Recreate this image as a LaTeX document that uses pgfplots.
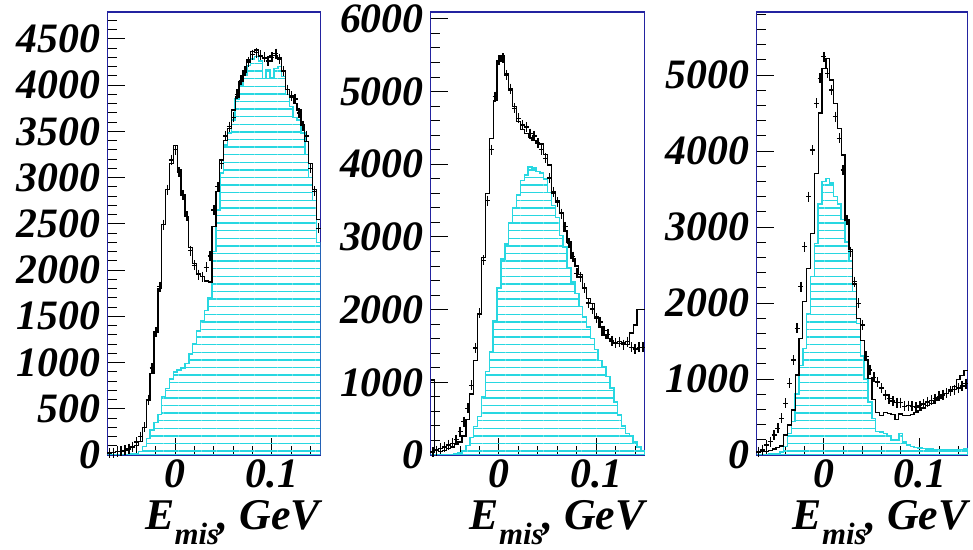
\documentclass[border=0pt]{standalone}
\usepackage{fontspec}
\setmainfont{Liberation Serif}
\usepackage{pgfplots}
\pgfplotsset{compat=1.18}
\usepackage{pgfplotstable}
\usetikzlibrary{patterns.meta}
\definecolor{frameblue}{RGB}{35,35,160}
\definecolor{mccyan}{RGB}{40,215,225}

\newcommand\tlab{\fontsize{42}{42}\selectfont\bfseries\itshape}
\newcommand\emis{{\fontsize{44}{44}\selectfont\bfseries\itshape E\raisebox{-0.36em}{\fontsize{31}{31}\selectfont mis}\kern-0.03em, GeV}}

% bin left edge, total MC, signal MC, data
\pgfplotstableread{
x mc sig dat
-0.070 30 0 20
-0.066 30 0 25
-0.062 35 0 36
-0.058 40 0 40
-0.054 50 5 50
-0.050 60 8 70
-0.046 80 10 90
-0.042 100 18 140
-0.038 145 36 200
-0.034 300 90 300
-0.030 590 180 600
-0.026 880 270 940
-0.022 1330 350 1330
-0.018 1800 440 1820
-0.014 2490 630 2490
-0.010 2870 720 2870
-0.006 3150 820 3190
-0.002 3350 900 3300
0.002 3080 920 3060
0.006 2810 940 2810
0.010 2580 990 2580
0.014 2240 1090 2210
0.018 2070 1200 2050
0.022 1960 1340 1950
0.026 1930 1450 1930
0.030 1880 1560 2030
0.034 1870 1700 2150
0.038 2470 2200 2650
0.042 2850 2650 2900
0.046 3190 3050 3150
0.050 3400 3350 3450
0.054 3530 3480 3550
0.058 3730 3620 3650
0.062 3870 3850 3900
0.066 4040 4000 4050
0.070 4140 4110 4150
0.074 4270 4210 4250
0.078 4360 4280 4330
0.082 4380 4310 4350
0.086 4310 4260 4320
0.090 4290 4070 4300
0.094 4300 4170 4260
0.098 4320 4080 4300
0.102 4320 4180 4340
0.106 4300 4200 4280
0.110 4160 4090 4150
0.114 3950 3900 3950
0.118 3870 3770 3880
0.122 3800 3650 3850
0.126 3730 3620 3700
0.130 3570 3480 3560
0.134 3390 3250 3450
0.138 3150 3000 3100
0.142 2870 2750 2850
0.146 2550 2300 2450
0.150 2550 2300 2450
}\pone

\pgfplotstableread{
x mc sig dat
-0.070 1030 0 40
-0.066 70 0 60
-0.062 45 0 90
-0.058 60 0 110
-0.054 90 5 140
-0.050 110 10 160
-0.046 140 15 210
-0.042 180 25 320
-0.038 260 60 460
-0.034 490 130 640
-0.030 840 240 960
-0.026 1300 390 1470
-0.022 1930 530 1950
-0.018 2720 800 2680
-0.014 3600 1150 3500
-0.010 4350 1420 4200
-0.006 4880 1850 4930
-0.002 5420 2300 5430
0.002 5500 2700 5460
0.006 5250 2900 5230
0.010 5020 3200 5040
0.014 4790 3400 4770
0.018 4590 3580 4630
0.022 4480 3780 4540
0.026 4420 3850 4510
0.030 4370 3960 4420
0.034 4330 3950 4390
0.038 4300 3900 4290
0.042 4280 3880 4200
0.046 4130 3800 4080
0.050 3990 3610 3810
0.054 3600 3430 3620
0.058 3500 3270 3480
0.062 3330 3020 3320
0.066 3080 2860 3140
0.070 2930 2580 2910
0.074 2700 2380 2730
0.078 2600 2220 2500
0.082 2480 2040 2450
0.086 2300 1900 2300
0.090 2150 1760 2090
0.094 2080 1600 2010
0.098 1900 1450 1880
0.102 1760 1300 1830
0.106 1650 1210 1710
0.110 1600 1080 1660
0.114 1560 920 1570
0.118 1530 730 1540
0.122 1530 550 1560
0.126 1540 400 1520
0.130 1520 295 1560
0.134 1680 270 1480
0.138 1790 180 1460
0.142 2000 110 1480
0.146 2000 60 1480
0.150 2000 60 1480
}\ptwo

\pgfplotstableread{
x mc sig dat
-0.070 40 0 40
-0.066 45 0 66
-0.062 50 5 132
-0.058 60 10 175
-0.054 80 15 263
-0.050 100 20 351
-0.046 120 40 482
-0.042 263 110 680
-0.038 395 285 943
-0.034 592 440 1250
-0.030 1053 800 1667
-0.026 1535 1180 2215
-0.022 2018 1400 2741
-0.018 2450 1864 3399
-0.014 2917 2350 4013
-0.010 3700 2785 4627
-0.006 4500 3300 4956
-0.002 5090 3600 5241
0.002 5220 3640 5022
0.006 4934 3580 4803
0.010 4627 3400 4452
0.014 4298 3300 4167
0.018 3947 3100 3750
0.022 3100 2800 3092
0.026 2700 2550 2675
0.030 2250 2150 2281
0.034 1800 1730 1996
0.038 1510 1300 1711
0.042 1250 1000 1300
0.046 1010 700 1120
0.050 730 480 1020
0.054 560 310 960
0.058 520 300 880
0.062 560 280 790
0.066 550 250 740
0.070 530 200 710
0.074 470 200 690
0.078 540 280 690
0.082 520 170 640
0.086 520 130 650
0.090 530 110 640
0.094 560 100 630
0.098 590 90 650
0.102 620 85 670
0.106 650 80 700
0.110 680 80 720
0.114 720 75 740
0.118 750 70 770
0.122 790 70 790
0.126 810 70 810
0.130 860 65 840
0.134 900 70 860
0.138 990 70 880
0.142 1050 75 910
0.146 1110 80 940
0.150 1110 80 940
}\pthree

\pgfplotsset{
  rootpad/.style={
    scale only axis, anchor=south west, height=443bp,
    xmin=-0.07, xmax=0.15, ymin=0,
    axis line style={draw=frameblue, line width=1.1bp},
    tick align=inside, xtick pos=bottom, ytick pos=left,
    major tick length=17bp, minor tick length=9bp,
    tick style={black, line width=1bp},
    xtick={0,0.1}, xticklabels={0,0.1},
    minor xtick={-0.06,-0.04,-0.02,0.02,0.04,0.06,0.08,0.12,0.14},
    tick label style={font=\tlab},
    /pgf/number format/assume math mode=true,
    /pgf/number format/1000 sep={},
    yticklabel style={inner sep=0pt, xshift=-7bp},
    xticklabel style={inner sep=0pt, yshift=-4bp},
    xlabel={\emis},
    xlabel style={at={(axis description cs:1,0)}, anchor=base east, inner sep=0pt, yshift=-74bp},
  },
  sigh/.style={const plot, draw=mccyan, line width=1.5bp,
    pattern={Lines[angle=0,distance=7.6bp,line width=1.4bp]}, pattern color=mccyan},
  toth/.style={const plot, black, line width=1.3bp},
  datp/.style={only marks, mark=+, mark size=5bp,
    mark options={xscale=0.5, line width=1.4bp, black},
    skip coords between index={55}{56}},
}

\begin{document}
\begin{tikzpicture}
\path[use as bounding box] (0,0) rectangle (973bp,550bp);

\begin{axis}[rootpad, at={(107.6bp,95bp)}, width=212.7bp, ymax=4790,
  ytick={0,500,...,4500}, minor ytick={100,200,...,4700}]
  \addplot[sigh] table[x=x,y=sig]{\pone} \closedcycle;
  \addplot[toth] table[x=x,y=mc]{\pone};
  \addplot[datp] table[x expr=\thisrow{x}+0.002,y=dat]{\pone};
\end{axis}

\begin{axis}[rootpad, at={(430.9bp,95bp)}, width=214bp, ymax=6095,
  ytick={0,1000,...,6000}, minor ytick={200,400,...,6000}]
  \addplot[sigh] table[x=x,y=sig]{\ptwo} \closedcycle;
  \addplot[toth] table[x=x,y=mc]{\ptwo};
  \addplot[datp] table[x expr=\thisrow{x}+0.002,y=dat]{\ptwo};
\end{axis}

\begin{axis}[rootpad, at={(756.8bp,95bp)}, width=211bp, ymax=5830,
  ytick={0,1000,...,5000}, minor ytick={200,400,...,5800}]
  \addplot[sigh] table[x=x,y=sig]{\pthree} \closedcycle;
  \addplot[toth] table[x=x,y=mc]{\pthree};
  \addplot[datp] table[x expr=\thisrow{x}+0.002,y=dat]{\pthree};
\end{axis}
\end{tikzpicture}
\end{document}
